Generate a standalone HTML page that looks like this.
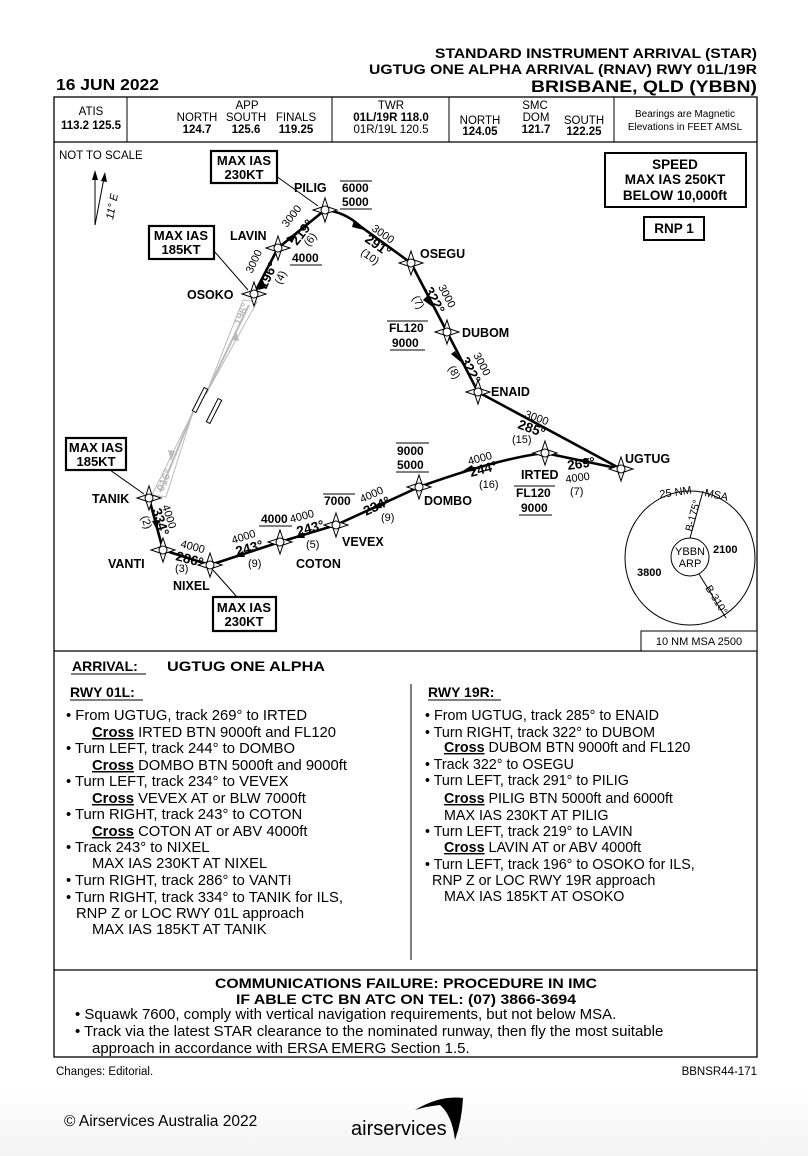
<!DOCTYPE html>
<html><head><meta charset="utf-8"><style>
html,body{margin:0;padding:0;background:#fff}
svg{display:block}
text{font-family:"Liberation Sans",sans-serif;fill:#000}
.b{font-weight:bold}
.u{text-decoration:underline}
</style></head><body>
<svg width="808" height="1156" viewBox="0 0 808 1156" xmlns="http://www.w3.org/2000/svg">
<defs>
<linearGradient id="bg" x1="0" y1="0" x2="0" y2="1"><stop offset="0" stop-color="#fff"/><stop offset="1" stop-color="#f3f3f3"/></linearGradient>
<symbol id="wp" viewBox="-13 -13 26 26" overflow="visible">
<path d="M0,-12 L3,-3 L12,0 L3,3 L0,12 L-3,3 L-12,0 L-3,-3 Z" fill="#fff" stroke="#000" stroke-width="1"/>
<circle r="4" fill="#fff" stroke="#000" stroke-width="1"/>
</symbol>
</defs>
<rect x="0" y="1090" width="808" height="66" fill="url(#bg)"/>

<!-- Title -->
<text x="757" y="58" text-anchor="end" class="b" font-size="13.5" textLength="322" lengthAdjust="spacingAndGlyphs">STANDARD INSTRUMENT ARRIVAL (STAR)</text>
<text x="757" y="74" text-anchor="end" class="b" font-size="13.5" textLength="388" lengthAdjust="spacingAndGlyphs">UGTUG ONE ALPHA ARRIVAL (RNAV) RWY 01L/19R</text>
<text x="757" y="92" text-anchor="end" class="b" font-size="17" textLength="226" lengthAdjust="spacingAndGlyphs">BRISBANE, QLD (YBBN)</text>
<text x="56" y="90" class="b" font-size="15.5" textLength="103" lengthAdjust="spacingAndGlyphs">16 JUN 2022</text>

<!-- frame -->
<rect x="54" y="97" width="703" height="960" fill="none" stroke="#000" stroke-width="1.3"/>
<line x1="54" y1="142" x2="757" y2="142" stroke="#000" stroke-width="1.3"/>
<line x1="127" y1="97" x2="127" y2="142" stroke="#000"/>
<line x1="332" y1="97" x2="332" y2="142" stroke="#000"/>
<line x1="449" y1="97" x2="449" y2="142" stroke="#000"/>
<line x1="614" y1="97" x2="614" y2="142" stroke="#000"/>
<g font-size="11.5">
<text x="91" y="115" text-anchor="middle">ATIS</text>
<text x="91" y="129" text-anchor="middle" class="b">113.2  125.5</text>
<text x="247" y="109" text-anchor="middle">APP</text>
<text x="197" y="121" text-anchor="middle">NORTH</text><text x="246" y="121" text-anchor="middle">SOUTH</text><text x="296" y="121" text-anchor="middle">FINALS</text>
<text x="197" y="133" text-anchor="middle" class="b">124.7</text><text x="246" y="133" text-anchor="middle" class="b">125.6</text><text x="296" y="133" text-anchor="middle" class="b">119.25</text>
<text x="391" y="109" text-anchor="middle">TWR</text>
<text x="391" y="121" text-anchor="middle" class="b">01L/19R  118.0</text>
<text x="391" y="133" text-anchor="middle">01R/19L  120.5</text>
<text x="535" y="109" text-anchor="middle">SMC</text>
<text x="480" y="124" text-anchor="middle">NORTH</text><text x="536" y="121" text-anchor="middle">DOM</text><text x="584" y="124" text-anchor="middle">SOUTH</text>
<text x="480" y="135" text-anchor="middle" class="b">124.05</text><text x="536" y="133" text-anchor="middle" class="b">121.7</text><text x="584" y="135" text-anchor="middle" class="b">122.25</text>
</g>
<text x="685" y="117" text-anchor="middle" font-size="10">Bearings are Magnetic</text>
<text x="685" y="130" text-anchor="middle" font-size="10">Elevations in FEET AMSL</text>

<!-- chart -->
<line x1="54" y1="651" x2="757" y2="651" stroke="#000" stroke-width="1.3"/>
<text x="59" y="159" font-size="11.5">NOT TO SCALE</text>
<line x1="95" y1="225" x2="95" y2="176" stroke="#000"/>
<path d="M95,170 L92,180 L98,180 Z"/>
<line x1="95" y1="225" x2="104" y2="178" stroke="#000"/>
<path d="M105,172 L101,181 L107,182 Z"/>
<text x="0" y="0" font-size="11" font-style="italic" transform="translate(113,220) rotate(-79)">11° E</text>

<!-- grey corridor -->
<g fill="none" stroke="#bbb" stroke-width="1">
<path d="M243,300 L257,302 L206,394"/>
<path d="M243,300 L206,394"/>
<path d="M152,495 L166,497 L193,412"/>
<path d="M152,495 L193,412"/>
<line x1="249" y1="305" x2="206" y2="394" stroke-width="2"/>
<line x1="160" y1="492" x2="193" y2="412" stroke-width="2"/>
</g>
<path d="M236,330 L232,340 L239,341 Z" fill="#bbb"/>
<path d="M171,461 L175,451 L168,450 Z" fill="#bbb"/>
<text font-size="11" class="b" style="fill:#bbb" transform="translate(240,326) rotate(-66)">196°</text>
<text font-size="11" class="b" style="fill:#bbb" transform="translate(163,492) rotate(-66)">016°</text>
<rect x="-2" y="-13" width="4" height="26" fill="#fff" stroke="#000" transform="translate(200,400) rotate(27)"/>
<rect x="-2" y="-13" width="4" height="26" fill="#fff" stroke="#000" transform="translate(214,411) rotate(27)"/>

<!-- legs -->
<g stroke="#000" stroke-width="2.6" fill="none">
<path d="M325,210 Q345,212 360,226 L411,263"/>
<line x1="411" y1="263" x2="447" y2="332"/>
<line x1="447" y1="332" x2="478" y2="392"/>
<line x1="478" y1="392" x2="621" y2="469"/>
<line x1="325" y1="210" x2="278" y2="248"/>
<line x1="278" y1="248" x2="254" y2="294"/>
<line x1="621" y1="469" x2="545" y2="453"/>
<path d="M545,453 Q500,458 419,487"/>
<line x1="419" y1="487" x2="336" y2="525"/>
<line x1="336" y1="525" x2="280" y2="542"/>
<line x1="280" y1="542" x2="210" y2="565"/>
<line x1="210" y1="565" x2="163" y2="550"/>
<line x1="163" y1="550" x2="149" y2="498"/>
</g>
<g fill="#000">
<path d="M364,230 L354,220 L352,227 Z"/>
<path d="M434,308 L427,296 L423,300 Z"/>
<path d="M462,363 L455,351 L451,354 Z"/>
<path d="M297,233 L286,238 L292,243 Z"/>
<path d="M262,278 L258,290 L266,288 Z"/>
<path d="M577,460 L589,458 L587,464 Z"/>
<path d="M461,472 L472,465 L474,471 Z"/>
<path d="M370,509 L380,502 L382,508 Z"/>
<path d="M293,538 L303,532 L305,538 Z"/>
<path d="M233,557 L243,551 L245,557 Z"/>
<path d="M157,530 L152,521 L159,520 Z"/>
</g>

<!-- waypoints -->
<use href="#wp" x="312" y="197" width="26" height="26"/>
<use href="#wp" x="265" y="235" width="26" height="26"/>
<use href="#wp" x="241" y="281" width="26" height="26"/>
<use href="#wp" x="398" y="250" width="26" height="26"/>
<use href="#wp" x="434" y="319" width="26" height="26"/>
<use href="#wp" x="465" y="379" width="26" height="26"/>
<use href="#wp" x="608" y="456" width="26" height="26"/>
<use href="#wp" x="532" y="440" width="26" height="26"/>
<use href="#wp" x="406" y="474" width="26" height="26"/>
<use href="#wp" x="323" y="512" width="26" height="26"/>
<use href="#wp" x="267" y="529" width="26" height="26"/>
<use href="#wp" x="197" y="552" width="26" height="26"/>
<use href="#wp" x="150" y="537" width="26" height="26"/>
<use href="#wp" x="136" y="485" width="26" height="26"/>

<g class="b" font-size="12.5">
<text x="294" y="192">PILIG</text>
<text x="230" y="240">LAVIN</text>
<text x="187" y="299">OSOKO</text>
<text x="420" y="258">OSEGU</text>
<text x="462" y="337">DUBOM</text>
<text x="491" y="396">ENAID</text>
<text x="625" y="463">UGTUG</text>
<text x="521" y="479">IRTED</text>
<text x="424" y="505">DOMBO</text>
<text x="342" y="546">VEVEX</text>
<text x="296" y="568">COTON</text>
<text x="173" y="590">NIXEL</text>
<text x="108" y="568">VANTI</text>
<text x="92" y="503">TANIK</text>
</g>

<g class="b" font-size="12">
<text x="342" y="192">6000</text><line x1="340" y1="181" x2="372" y2="181" stroke="#000"/>
<text x="342" y="206">5000</text><line x1="340" y1="209" x2="372" y2="209" stroke="#000"/>
<text x="292" y="262">4000</text><line x1="290" y1="265" x2="322" y2="265" stroke="#000"/>
<text x="389" y="332">FL120</text><line x1="387" y1="321" x2="428" y2="321" stroke="#000"/>
<text x="392" y="347">9000</text><line x1="390" y1="350" x2="425" y2="350" stroke="#000"/>
<text x="397" y="455">9000</text><line x1="396" y1="443" x2="429" y2="443" stroke="#000"/>
<text x="397" y="469">5000</text><line x1="396" y1="472" x2="429" y2="472" stroke="#000"/>
<text x="324" y="505">7000</text><line x1="323" y1="494" x2="355" y2="494" stroke="#000"/>
<text x="261" y="523">4000</text><line x1="259" y1="526" x2="292" y2="526" stroke="#000"/>
<text x="516" y="497">FL120</text><line x1="514" y1="486" x2="555" y2="486" stroke="#000"/>
<text x="521" y="512">9000</text><line x1="519" y1="515" x2="552" y2="515" stroke="#000"/>
</g>

<g font-size="11">
<text transform="translate(287,228) rotate(-52)">3000</text>
<text class="b" font-size="13.5" transform="translate(297,246) rotate(-52)">219°</text>
<text transform="translate(309,247) rotate(-52)">(6)</text>
<text transform="translate(252,274) rotate(-65)">3000</text>
<text class="b" font-size="13.5" transform="translate(266,290) rotate(-65)">196°</text>
<text transform="translate(281,285) rotate(-65)">(4)</text>
<text transform="translate(371,230) rotate(35)">3000</text>
<text class="b" font-size="13.5" transform="translate(364,241) rotate(35)">291°</text>
<text transform="translate(360,254) rotate(35)">(10)</text>
<text transform="translate(438,287) rotate(62)">3000</text>
<text class="b" font-size="13.5" transform="translate(424,290) rotate(62)">322°</text>
<text transform="translate(412,298) rotate(62)">(7)</text>
<text transform="translate(473,355) rotate(62)">3000</text>
<text class="b" font-size="13.5" transform="translate(460,360) rotate(62)">322°</text>
<text transform="translate(448,368) rotate(62)">(8)</text>
<text transform="translate(524,417) rotate(20)">3000</text>
<text class="b" font-size="13.5" transform="translate(517,428) rotate(20)">285°</text>
<text x="512" y="443">(15)</text>
<text class="b" font-size="13.5" transform="translate(568,470) rotate(-8)">269°</text>
<text transform="translate(566,483) rotate(-8)">4000</text>
<text x="570" y="495">(7)</text>
<text transform="translate(469,465) rotate(-15)">4000</text>
<text class="b" font-size="13.5" transform="translate(471,477) rotate(-15)">244°</text>
<text x="479" y="488">(16)</text>
<text transform="translate(362,503) rotate(-25)">4000</text>
<text class="b" font-size="13.5" transform="translate(366,516) rotate(-25)">234°</text>
<text x="381" y="521">(9)</text>
<text transform="translate(291,523) rotate(-15)">4000</text>
<text class="b" font-size="13.5" transform="translate(298,536) rotate(-15)">243°</text>
<text x="306" y="548">(5)</text>
<text transform="translate(233,544) rotate(-18)">4000</text>
<text class="b" font-size="13.5" transform="translate(237,556) rotate(-15)">243°</text>
<text x="248" y="567">(9)</text>
<text transform="translate(180,547) rotate(15)">4000</text>
<text class="b" font-size="13.5" transform="translate(175,560) rotate(15)">286°</text>
<text x="175" y="572">(3)</text>
<text transform="translate(162,506) rotate(72)">4000</text>
<text class="b" font-size="13.5" transform="translate(152,510) rotate(72)">334°</text>
<text transform="translate(141,517) rotate(72)">(2)</text>
</g>

<g stroke="#000" fill="none">
<line x1="276" y1="176" x2="318" y2="206"/>
<line x1="214" y1="251" x2="248" y2="290"/>
<line x1="110" y1="470" x2="144" y2="494"/>
<line x1="237" y1="597" x2="213" y2="570"/>
</g>
<g stroke="#000" stroke-width="2.2" fill="#fff">
<rect x="211" y="151" width="66" height="32"/>
<rect x="149" y="226" width="65" height="33"/>
<rect x="66" y="438" width="60" height="32"/>
<rect x="213" y="597" width="63" height="34"/>
<rect x="605" y="153" width="141" height="54" stroke-width="2"/>
<rect x="644" y="217" width="60" height="23" stroke-width="2"/>
</g>
<g class="b" font-size="13" text-anchor="middle">
<text x="244" y="165">MAX IAS</text><text x="244" y="179">230KT</text>
<text x="181" y="240">MAX IAS</text><text x="181" y="254">185KT</text>
<text x="96" y="452">MAX IAS</text><text x="96" y="466">185KT</text>
<text x="244" y="612">MAX IAS</text><text x="244" y="626">230KT</text>
<text x="675" y="169" font-size="13.5">SPEED</text>
<text x="675" y="184" font-size="13.5">MAX IAS 250KT</text>
<text x="675" y="200" font-size="13.5">BELOW 10,000ft</text>
<text x="674" y="233" font-size="13.5">RNP 1</text>
</g>

<!-- MSA -->
<ellipse cx="690" cy="558" rx="65" ry="67" fill="none" stroke="#000"/>
<circle cx="690" cy="557" r="19" fill="none" stroke="#000"/>
<line x1="690" y1="538" x2="703" y2="491" stroke="#000"/>
<line x1="699" y1="574" x2="726" y2="618" stroke="#000"/>
<text x="690" y="555" text-anchor="middle" font-size="11">YBBN</text>
<text x="690" y="567" text-anchor="middle" font-size="11">ARP</text>
<text x="713" y="553" class="b" font-size="11">2100</text>
<text x="637" y="576" class="b" font-size="11">3800</text>
<text font-size="11" transform="translate(660,498) rotate(-8)">25 NM</text>
<text font-size="11" transform="translate(704,496) rotate(12)">MSA</text>
<text font-size="10.5" transform="translate(692,532) rotate(-75)">B-175°</text>
<text font-size="10.5" transform="translate(705,588) rotate(58)">B-310°</text>
<rect x="641" y="631" width="116" height="20" fill="#fff" stroke="#000"/>
<text x="699" y="645" text-anchor="middle" font-size="11">10 NM MSA 2500</text>

<!-- arrival text -->
<text x="72" y="671" class="b" font-size="14">ARRIVAL:</text>
<line x1="71" y1="674" x2="146" y2="674" stroke="#000"/>
<text x="167" y="671" class="b" font-size="14" textLength="158" lengthAdjust="spacingAndGlyphs">UGTUG  ONE  ALPHA</text>
<text x="70" y="697" class="b" font-size="14">RWY 01L:</text>
<line x1="70" y1="700" x2="143" y2="700" stroke="#000"/>
<text x="428" y="697" class="b" font-size="14">RWY 19R:</text>
<line x1="428" y1="700" x2="501" y2="700" stroke="#000"/>
<line x1="411" y1="684" x2="411" y2="960" stroke="#000"/>
<g font-size="14.8">
<text x="66" y="720">• From UGTUG, track 269° to IRTED</text>
<text x="92" y="737"><tspan class="b u">Cross</tspan> IRTED BTN 9000ft and FL120</text>
<text x="66" y="753">• Turn LEFT, track 244° to DOMBO</text>
<text x="92" y="770"><tspan class="b u">Cross</tspan> DOMBO BTN 5000ft and 9000ft</text>
<text x="66" y="786">• Turn LEFT, track 234° to VEVEX</text>
<text x="92" y="803"><tspan class="b u">Cross</tspan> VEVEX AT or BLW 7000ft</text>
<text x="66" y="819">• Turn RIGHT, track 243° to COTON</text>
<text x="92" y="836"><tspan class="b u">Cross</tspan> COTON AT or ABV 4000ft</text>
<text x="66" y="852">• Track 243° to NIXEL</text>
<text x="92" y="868">MAX IAS 230KT AT NIXEL</text>
<text x="66" y="885">• Turn RIGHT, track 286° to VANTI</text>
<text x="66" y="902">• Turn RIGHT, track 334° to TANIK for ILS,</text>
<text x="76" y="918">RNP Z or LOC RWY 01L approach</text>
<text x="92" y="934">MAX IAS 185KT AT TANIK</text>
</g>
<g font-size="14.3">
<text x="425" y="720">• From UGTUG, track 285° to ENAID</text>
<text x="425" y="737">• Turn RIGHT, track 322° to DUBOM</text>
<text x="444" y="752"><tspan class="b u">Cross</tspan> DUBOM BTN 9000ft and FL120</text>
<text x="425" y="769">• Track 322° to OSEGU</text>
<text x="425" y="785">• Turn LEFT, track 291° to PILIG</text>
<text x="444" y="803"><tspan class="b u">Cross</tspan> PILIG BTN 5000ft and 6000ft</text>
<text x="444" y="820">MAX IAS 230KT AT PILIG</text>
<text x="425" y="836">• Turn LEFT, track 219° to LAVIN</text>
<text x="444" y="852"><tspan class="b u">Cross</tspan> LAVIN AT or ABV 4000ft</text>
<text x="425" y="869">• Turn LEFT, track 196° to OSOKO for ILS,</text>
<text x="432" y="885">RNP Z or LOC RWY 19R approach</text>
<text x="444" y="901">MAX IAS 185KT AT OSOKO</text>
</g>

<!-- comm failure -->
<line x1="54" y1="970" x2="757" y2="970" stroke="#000" stroke-width="1.3"/>
<text x="406" y="988" text-anchor="middle" class="b" font-size="14" textLength="382" lengthAdjust="spacingAndGlyphs">COMMUNICATIONS FAILURE: PROCEDURE IN IMC</text>
<text x="406" y="1004" text-anchor="middle" class="b" font-size="14" textLength="340" lengthAdjust="spacingAndGlyphs">IF ABLE CTC BN ATC ON TEL: (07) 3866-3694</text>
<g font-size="15">
<text x="75" y="1019">•  Squawk 7600, comply with vertical navigation requirements, but not below MSA.</text>
<text x="75" y="1036">•  Track via the latest STAR clearance to the nominated runway, then fly the most suitable</text>
<text x="92" y="1053">approach in accordance with ERSA EMERG Section 1.5.</text>
</g>
<text x="56" y="1075" font-size="11.5">Changes: Editorial.</text>
<text x="757" y="1075" text-anchor="end" font-size="11.5">BBNSR44-171</text>
<text x="64" y="1126" font-size="15.5">© Airservices Australia 2022</text>
<text x="351" y="1135" font-size="20">airservices</text>
<path d="M415,1110 Q440,1095 463,1098 Q462,1120 455,1140 Q452,1115 440,1105 Q428,1106 415,1110 Z" fill="#000"/>
</svg>
</body></html>
